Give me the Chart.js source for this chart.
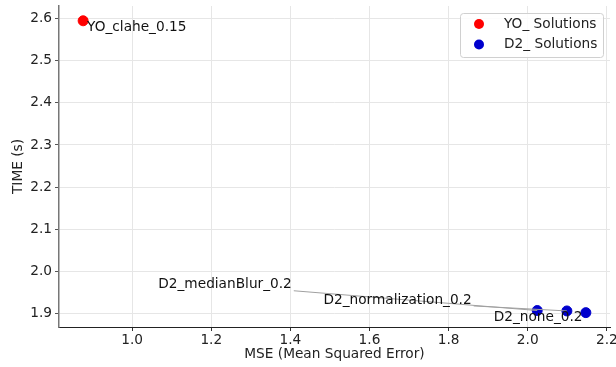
<!DOCTYPE html>
<html>
<head>
<meta charset="utf-8">
<script src="https://cdn.jsdelivr.net/npm/chart.js@4.4.1/dist/chart.umd.min.js"></script>
<style>
  html, body { margin: 0; padding: 0; background: #fff; }
  #wrap { width: 616px; height: 367px; position: relative; }
</style>
</head>
<body>
<div id="wrap"><canvas id="scatter"></canvas></div>
<script>
// ─── DATA ─────────────────────────────────────────
const yoNames = ['YO_clahe_0.15'];
const yoMse   = [0.876];
const yoTime  = [2.594];

const d2Names = ['D2_medianBlur_0.2', 'D2_normalization_0.2', 'D2_none_0.2'];
const d2Mse   = [2.024, 2.099, 2.147];
const d2Time  = [1.908, 1.907, 1.903];

const xTicks = [1.0, 1.2, 1.4, 1.6, 1.8, 2.0, 2.2];
const yTicks = [1.9, 2.0, 2.1, 2.2, 2.3, 2.4, 2.5, 2.6];

const seriesNames = ['YO_ Solutions', 'D2_ Solutions'];

// ─── LOOK ─────────────────────────────────────────
const FONT = "'DejaVu Sans', sans-serif";
const FSIZE = 13.7;
const RED  = '#ff0000';
const BLUE = '#0000cd';

// label placement (data units, left edge / vertical centre of text)
const labelSpots = {
  'YO_clahe_0.15':        { x: 0.886, y: 2.579, lead: false },
  'D2_medianBlur_0.2':    { x: 1.066, y: 1.969, lead: true },
  'D2_normalization_0.2': { x: 1.4835, y: 1.933, lead: true },
  'D2_none_0.2':          { x: 1.914, y: 1.892, lead: false }
};

Chart.defaults.font.family = FONT;
Chart.defaults.font.size = FSIZE;
Chart.defaults.color = '#222';

const toPoints = (xs, ys) => xs.map((x, i) => ({ x, y: ys[i] }));

// text labels + leader lines
const pointLabels = {
  id: 'pointLabels',
  afterDatasetsDraw(chart) {
    const { ctx, scales: { x, y } } = chart;
    ctx.save();
    ctx.font = FSIZE + 'px ' + FONT;
    ctx.textBaseline = 'middle';
    ctx.textAlign = 'left';
    chart.data.datasets.forEach((ds, di) => {
      const meta = chart.getDatasetMeta(di);
      ds.names.forEach((name, i) => {
        const spot = labelSpots[name];
        if (!spot) return;
        const tx = x.getPixelForValue(spot.x);
        const ty = y.getPixelForValue(spot.y);
        const pt = meta.data[i];
        const w = ctx.measureText(name).width;
        if (spot.lead) {
          ctx.strokeStyle = '#a0a0a0';
          ctx.lineWidth = 1;
          ctx.beginPath();
          ctx.moveTo(tx + w + 2, ty + 6);
          ctx.lineTo(pt.x, pt.y);
          ctx.stroke();
        }
        ctx.fillStyle = '#111';
        ctx.fillText(name, tx, ty);
      });
    });
    ctx.restore();
  }
};

// matplotlib-like boxed legend in the upper right
const boxLegend = {
  id: 'boxLegend',
  afterDraw(chart) {
    const { ctx } = chart;
    const bx = 460, by = 13, bw = 143, bh = 44;
    ctx.save();
    ctx.fillStyle = 'rgba(255,255,255,0.85)';
    ctx.strokeStyle = '#d0d0d0';
    ctx.lineWidth = 1;
    ctx.beginPath();
    ctx.roundRect(bx + 0.5, by + 0.5, bw, bh, 3);
    ctx.fill();
    ctx.stroke();
    ctx.font = FSIZE + 'px ' + FONT;
    ctx.textBaseline = 'middle';
    chart.data.datasets.forEach((ds, i) => {
      const cy = by + 11 + i * 20.5;
      ctx.fillStyle = ds.backgroundColor;
      ctx.beginPath();
      ctx.arc(bx + 19, cy, 5, 0, Math.PI * 2);
      ctx.fill();
      ctx.fillStyle = '#222';
      ctx.fillText(ds.label, bx + 44, cy);
    });
    ctx.restore();
  }
};

new Chart(document.getElementById('scatter'), {
  type: 'scatter',
  data: {
    datasets: [
      {
        label: seriesNames[0],
        names: yoNames,
        data: toPoints(yoMse, yoTime),
        backgroundColor: RED,
        borderColor: RED,
        pointRadius: 5,
        pointHoverRadius: 5
      },
      {
        label: seriesNames[1],
        names: d2Names,
        data: toPoints(d2Mse, d2Time),
        backgroundColor: BLUE,
        borderColor: BLUE,
        pointRadius: 5,
        pointHoverRadius: 5
      }
    ]
  },
  options: {
    responsive: true,
    maintainAspectRatio: false,
    animation: false,
    layout: { padding: { top: 6, right: 6, left: 0, bottom: 0 }, autoPadding: false },
    plugins: {
      legend: { display: false },
      tooltip: { enabled: false }
    },
    scales: {
      x: {
        type: 'linear',
        min: 0.815,
        max: 2.208,
        afterBuildTicks: s => { s.ticks = xTicks.map(v => ({ value: v })); },
        afterFit: s => { s.height = 40; s.paddingLeft = 0; s.paddingRight = 0; },
        ticks: { padding: 1, color: '#222', callback: v => v.toFixed(1) },
        grid: { color: '#e6e6e6', tickColor: '#333', tickLength: 4 },
        border: { color: '#222', width: 1 },
        title: { display: true, text: 'MSE (Mean Squared Error)', color: '#222', padding: { top: 0, bottom: 4 } }
      },
      y: {
        type: 'linear',
        min: 1.869,
        max: 2.629,
        afterBuildTicks: s => { s.ticks = yTicks.map(v => ({ value: v })); },
        afterFit: s => { s.width = 59; s.paddingTop = 0; s.paddingBottom = 0; },
        ticks: { padding: 3, color: '#222', callback: v => v.toFixed(1) },
        grid: { color: '#e6e6e6', tickColor: '#555', tickLength: 4 },
        border: { color: '#777', width: 1.5 },
        title: { display: true, text: 'TIME (s)', color: '#222', padding: { top: 10, bottom: 0 } }
      }
    }
  },
  plugins: [pointLabels, boxLegend]
});
</script>
</body>
</html>
